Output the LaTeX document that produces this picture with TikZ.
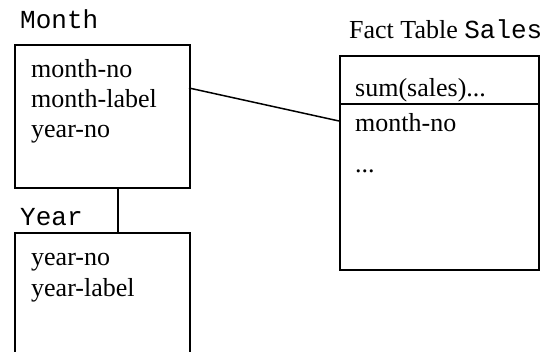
\documentclass[tikz,border=0pt]{standalone}
\usepackage{fontspec}
\setmainfont{Liberation Serif}
\setmonofont{Liberation Mono}
\begin{document}
\begin{tikzpicture}[x=1pt,y=-1pt,
  tbox/.style={draw,line width=1.5pt,inner sep=0pt,anchor=north west},
  field/.style={anchor=base west,inner sep=0pt,font=\fontsize{26}{30}\selectfont},
  ttl/.style={anchor=base west,inner sep=0pt,font=\fontsize{26}{30}\selectfont},
  conn/.style={line width=1.5pt}]
\useasboundingbox (0,0) rectangle (543,351);
% Month
\node[tbox,minimum width=175pt,minimum height=143pt] (month) at (14,44) {};
\node[ttl] (monthlbl) at (20,28) {\ttfamily Month};
\node[field] (m1) at (31,77) {month-no};
\node[field] (m2) at (31,107) {month-label};
\node[field] (m3) at (31,137) {year-no};
% Year
\node[tbox,minimum width=175pt,minimum height=130pt] (year) at (14,232) {};
\node[ttl] (yearlbl) at (20,225) {\ttfamily Year};
\node[field] (y1) at (31,265) {year-no};
\node[field] (y2) at (31,296) {year-label};
% Fact
\node[tbox,minimum width=199pt,minimum height=214pt] (fact) at (339,55) {};
\node[ttl] (factlbl) at (349,38) {Fact Table \ttfamily Sales};
\coordinate (divl) at (339,104);
\coordinate (divr) at (538,104);
\draw[conn] (divl) -- (divr);
\node[field] (f1) at (355,96) {sum(sales)...};
\node[field] (f2) at (355,131) {month-no};
\node[field] (f3) at (355,172) {...};
% connectors
\coordinate (cm) at (189,88);
\coordinate (cf) at (339,121);
\draw[conn] (cm) -- (cf);
\draw[conn] (month.south -| 118,0) -- (year.north -| 118,0);
\end{tikzpicture}
\end{document}
